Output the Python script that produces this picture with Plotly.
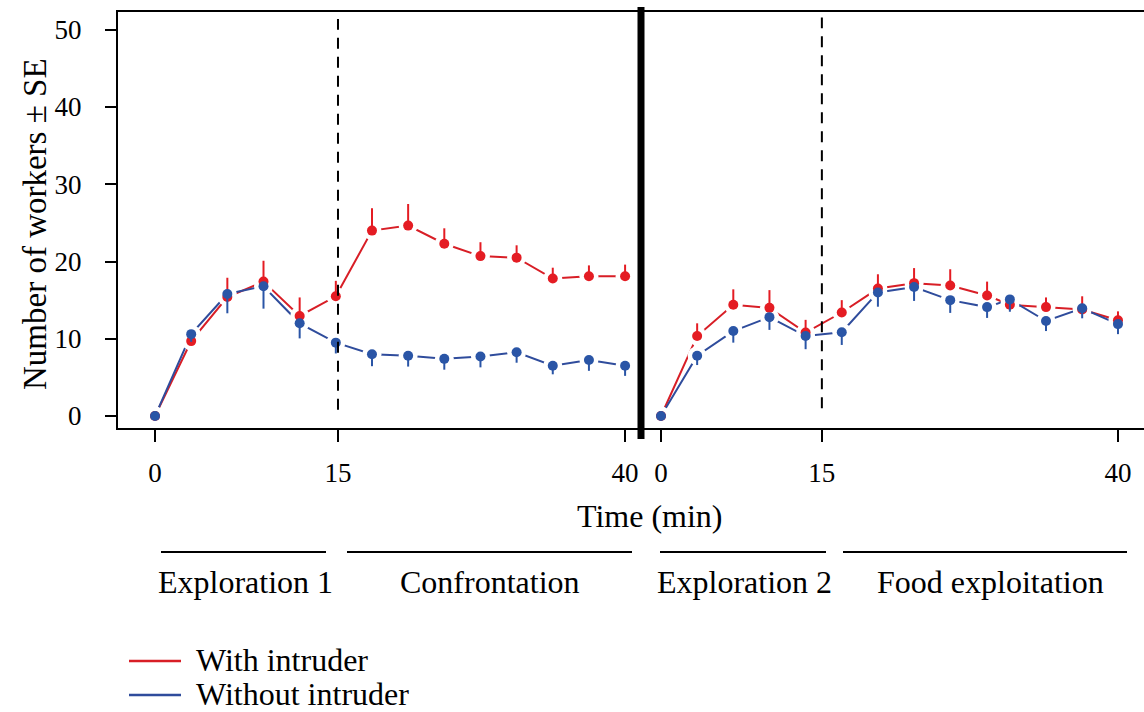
import plotly.graph_objects as go

# Sampling slots (evenly spaced counts) for the two trial phases
slot_left = [0, 1, 2, 3, 4, 5, 6, 7, 8, 9, 10, 11, 12, 13]
slot_right = [0, 1, 2, 3, 4, 5, 6, 7, 8, 9.02, 9.65, 10.65, 11.65, 12.64]

# Mean number of workers, with intruder (red) and without intruder (blue)
with_left = [0, 9.7, 15.4, 17.4, 12.95, 15.5, 24.0, 24.65, 22.3, 20.7, 20.5, 17.8, 18.1, 18.1]
with_left_se = [0, 0.8, 2.5, 2.7, 2.4, 2.0, 2.9, 2.8, 2.0, 1.8, 1.6, 1.4, 1.4, 1.5]
without_left = [0, 10.6, 15.8, 16.8, 12.0, 9.5, 8.0, 7.8, 7.4, 7.7, 8.25, 6.5, 7.25, 6.5]
without_left_se = [0, 1.0, 2.5, 2.9, 1.95, 1.4, 1.55, 1.4, 1.4, 1.4, 1.35, 1.1, 1.4, 1.3]

with_right = [0, 10.35, 14.4, 14.0, 10.8, 13.4, 16.5, 17.2, 16.9, 15.6, 14.4, 14.1, 13.8, 12.4]
with_right_se = [0, 1.65, 2.0, 2.3, 1.65, 1.6, 1.85, 1.95, 2.1, 1.8, 1.2, 1.25, 1.7, 1.15]
without_right = [0, 7.8, 11.0, 12.8, 10.35, 10.85, 16.0, 16.7, 15.0, 14.1, 15.1, 12.3, 13.95, 11.9]
without_right_se = [0, 1.2, 1.5, 1.65, 1.7, 1.65, 1.85, 1.8, 1.65, 1.4, 1.6, 1.3, 1.3, 1.3]

# Tick positions (in slots) and their minute labels
ticks_left = [0, 5.06, 13]
ticks_right = [0, 4.45, 12.64]
tick_labels = ["0", "15", "40"]
y_ticks = [0, 10, 20, 30, 40, 50]

phase_names = ["Exploration 1", "Confrontation", "Exploration 2", "Food exploitation"]
series_names = ["With intruder", "Without intruder"]

RED = "#e41c23"
BLUE = "#2a55a6"
RED_LINE = "#d81e26"
BLUE_LINE = "#2f4c9c"
FONT = "Liberation Serif"
TICK_SIZE = 27
TEXT_SIZE = 32

W, H = 1144, 712
ML, MR, MT, MB = 118, 0, 12, 284
plot_w = W - ML - MR
plot_h = H - MT - MB
split = (641 - ML) / plot_w


def px_x(p):
    return (p - ML) / plot_w


def px_y(p):
    return (H - MB - p) / plot_h


fig = go.Figure()

panels = [
    ("x", slot_left, with_left, with_left_se, without_left, without_left_se),
    ("x2", slot_right, with_right, with_right_se, without_right, without_right_se),
]

# connecting lines ("both" style: lines broken around each point)
for xaxis, xs, yr, _, yb, _ in panels:
    for ys, col, name in [(yr, RED_LINE, series_names[0]), (yb, BLUE_LINE, series_names[1])]:
        fig.add_trace(go.Scatter(x=xs, y=ys, mode="lines", name=name, showlegend=False,
                                 xaxis=xaxis, yaxis="y", line=dict(color=col, width=2),
                                 hoverinfo="skip"))
# white halos that open a small gap in the lines around every point
for xaxis, xs, yr, _, yb, _ in panels:
    for ys in (yr, yb):
        fig.add_trace(go.Scatter(x=xs, y=ys, mode="markers", showlegend=False,
                                 xaxis=xaxis, yaxis="y", hoverinfo="skip",
                                 marker=dict(color="white", size=19, line=dict(width=0))))


def add_points(xs, ys, se, color, up, xaxis, name):
    err = dict(type="data", symmetric=False, color=color, thickness=2, width=0)
    if up:
        err["array"] = se
        err["arrayminus"] = [0] * len(se)
    else:
        err["array"] = [0] * len(se)
        err["arrayminus"] = se
    fig.add_trace(go.Scatter(
        x=xs, y=ys, mode="markers", name=name, showlegend=False,
        xaxis=xaxis, yaxis="y",
        marker=dict(color=color, size=10, line=dict(width=0)),
        error_y=err,
    ))


for xaxis, xs, yr, sr, _, _ in panels:
    add_points(xs, yr, sr, RED, True, xaxis, series_names[0])
for xaxis, xs, _, _, yb, sb in panels:
    add_points(xs, yb, sb, BLUE, False, xaxis, series_names[1])

axis_common = dict(
    showgrid=False, zeroline=False, showline=True, linecolor="black", linewidth=2,
    ticks="outside", ticklen=12, tickwidth=2, tickcolor="black",
    tickfont=dict(family=FONT, size=TICK_SIZE, color="black"), ticklabelstandoff=8,
    mirror=True,
)

fig.update_layout(
    width=W, height=H,
    margin=dict(l=ML, r=MR, t=MT, b=MB, pad=0),
    paper_bgcolor="white", plot_bgcolor="white",
    showlegend=False,
    xaxis=dict(domain=[0, split], range=[-1.024, 13.44], tickmode="array",
               tickvals=ticks_left, ticktext=tick_labels, anchor="y", **axis_common),
    xaxis2=dict(domain=[split, 1], range=[-0.553, 13.36], tickmode="array",
                tickvals=ticks_right, ticktext=tick_labels, anchor="y", **axis_common),
    yaxis=dict(range=[-1.55, 52.3], tickmode="array", tickvals=y_ticks,
               showgrid=False, zeroline=False, showline=True, linecolor="black",
               linewidth=2, ticks="outside", ticklen=11, tickwidth=2, tickcolor="black",
               tickfont=dict(family=FONT, size=TICK_SIZE, color="black"), ticklabelstandoff=18,
               anchor="x"),
)

shapes = []
# phase boundaries at 15 min
shapes.append(dict(type="line", xref="x", yref="y", x0=ticks_left[1], x1=ticks_left[1],
                   y0=0.8, y1=51.4, line=dict(color="black", width=2, dash="11px,8px")))
shapes.append(dict(type="line", xref="x2", yref="y", x0=ticks_right[1], x1=ticks_right[1],
                   y0=1.0, y1=51.6, line=dict(color="black", width=2, dash="11px,8px")))
# thick separator between the two trials
shapes.append(dict(type="line", xref="paper", yref="paper", x0=split, x1=split,
                   y0=px_y(439), y1=px_y(7), line=dict(color="black", width=7)))

# phase brackets under the axis
bracket_px = [(161, 326), (347, 632), (660, 826), (843, 1127)]
label_px = [245, 490, 744, 990]
annotations = []
for (a, b), name, c in zip(bracket_px, phase_names, label_px):
    shapes.append(dict(type="line", xref="paper", yref="paper", x0=px_x(a), x1=px_x(b),
                       y0=px_y(552), y1=px_y(552), line=dict(color="black", width=2)))
    annotations.append(dict(xref="paper", yref="paper", x=px_x(c), y=px_y(582),
                            text=name, showarrow=False, xanchor="center", yanchor="middle",
                            font=dict(family=FONT, size=TEXT_SIZE, color="black")))

# axis titles
annotations.append(dict(xref="paper", yref="paper", x=px_x(650), y=px_y(516),
                        text="Time (min)", showarrow=False, xanchor="center", yanchor="middle",
                        font=dict(family=FONT, size=TEXT_SIZE, color="black")))
annotations.append(dict(xref="paper", yref="paper", x=px_x(35), y=px_y(224),
                        text="Number of workers ± SE", showarrow=False, textangle=-90,
                        xanchor="center", yanchor="middle",
                        font=dict(family=FONT, size=33, color="black")))

# legend key
for name, color, yy in [(series_names[0], RED_LINE, 660), (series_names[1], BLUE_LINE, 694)]:
    shapes.append(dict(type="line", xref="paper", yref="paper", x0=px_x(129), x1=px_x(181),
                       y0=px_y(yy + 1), y1=px_y(yy + 1), line=dict(color=color, width=2.5)))
    annotations.append(dict(xref="paper", yref="paper", x=px_x(194), y=px_y(yy),
                            text=name, showarrow=False, xanchor="left", yanchor="middle",
                            font=dict(family=FONT, size=TEXT_SIZE, color="black")))

fig.update_layout(shapes=shapes, annotations=annotations)

fig.write_html("out.html")
